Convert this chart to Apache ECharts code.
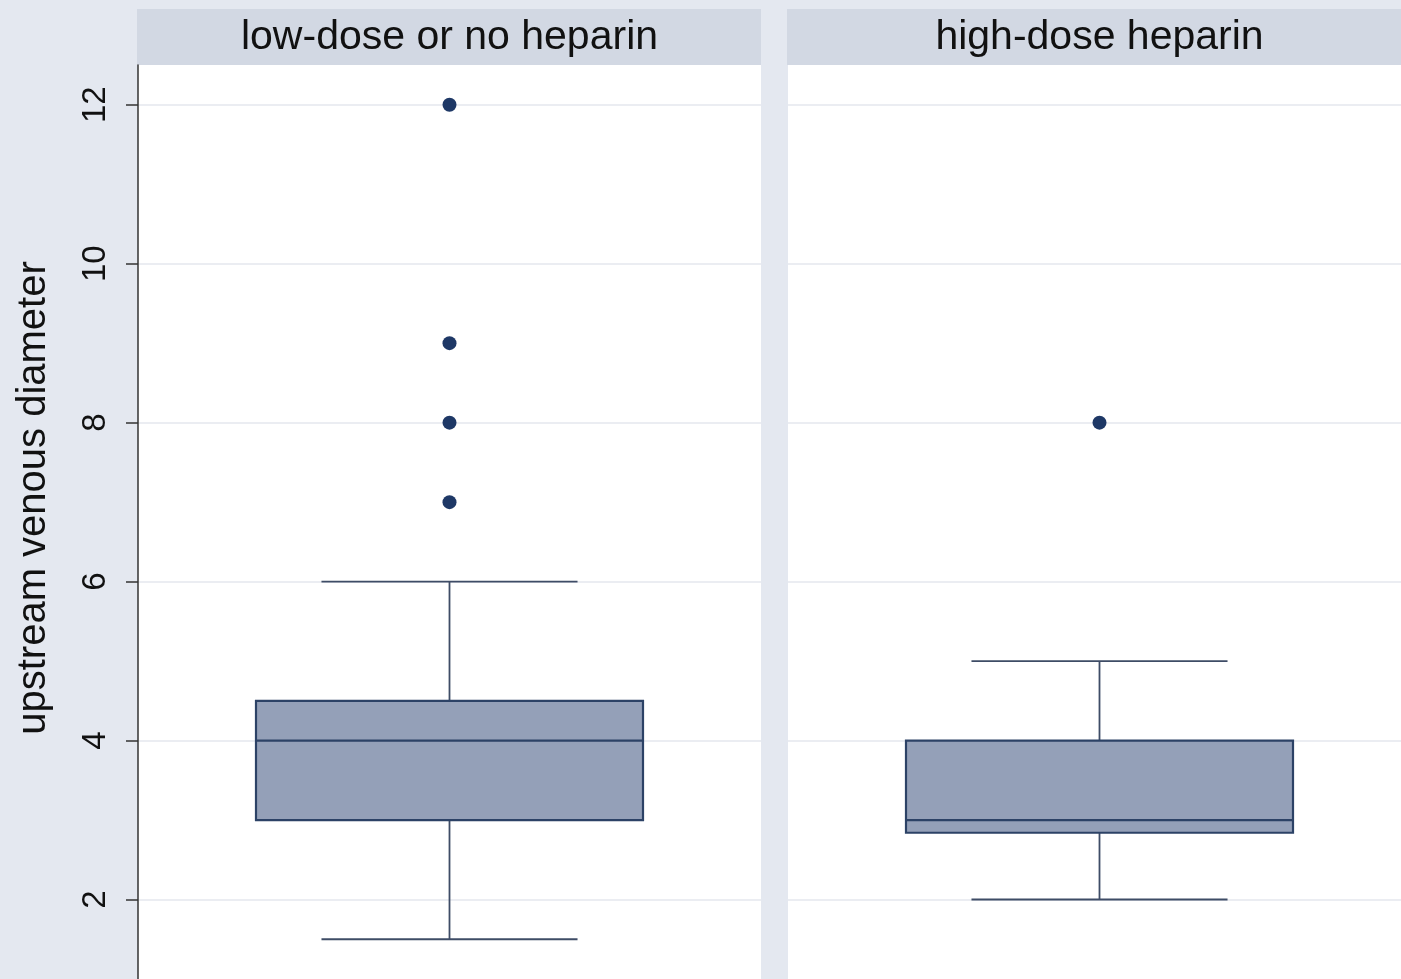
<!DOCTYPE html>
<html>
<head>
<meta charset="utf-8">
<script src="https://cdn.jsdelivr.net/npm/echarts@6/dist/echarts.min.js"></script>
<style>
html,body{margin:0;padding:0;background:#e4e8f0;overflow:hidden;width:1401px;height:979px;}
#chart{width:1411px;height:979px;}
</style>
</head>
<body>
<div id="chart"></div>
<script>
// ---- data ----
const categories = ['low-dose or no heparin', 'high-dose heparin'];
// [lower whisker, Q1, median, Q3, upper whisker]
const boxLow  = [1.5, 3.0, 4.0, 4.5, 6.0];
const boxHigh = [2.0, 2.84, 3.0, 4.0, 5.0];
const outliersLow  = [7, 8, 9, 12];
const outliersHigh = [8];
const yTicks = [2, 4, 6, 8, 10, 12];
const yTitle = 'upstream venous diameter';

// ---- styling ----
const BG = '#e4e8f0';
const STRIP = '#d2d8e3';
const BOX_FILL = '#94a0b8';
const BOX_LINE = '#2c4266';
const WHISKER = '#3e4c66';
const DOT = '#1e3866';
const GRIDLINE = '#e4e7ee';
const FONT = '"Liberation Sans", Arial, sans-serif';

const panelLeft = [138, 788];
const panelWidth = 623;
const gridTop = 65;
const gridHeight = 914;

function renderBox(params, api) {
  const xi = api.value(0);
  const band = api.size([1, 0])[0];
  const cx = api.coord([xi, api.value(3)])[0];
  const yLo = api.coord([xi, api.value(1)])[1];
  const yQ1 = api.coord([xi, api.value(2)])[1];
  const yMed = api.coord([xi, api.value(3)])[1];
  const yQ3 = api.coord([xi, api.value(4)])[1];
  const yHi = api.coord([xi, api.value(5)])[1];
  const hb = band * 0.3106;
  const hc = band * 0.2055;
  const wStyle = { stroke: WHISKER, lineWidth: 1.8 };
  return {
    type: 'group',
    children: [
      { type: 'line', shape: { x1: cx, y1: yQ1, x2: cx, y2: yLo }, style: wStyle },
      { type: 'line', shape: { x1: cx, y1: yQ3, x2: cx, y2: yHi }, style: wStyle },
      { type: 'line', shape: { x1: cx - hc, y1: yLo, x2: cx + hc, y2: yLo }, style: wStyle },
      { type: 'line', shape: { x1: cx - hc, y1: yHi, x2: cx + hc, y2: yHi }, style: wStyle },
      { type: 'rect', shape: { x: cx - hb, y: yQ3, width: 2 * hb, height: yQ1 - yQ3 },
        style: { fill: BOX_FILL, stroke: BOX_LINE, lineWidth: 2.2 } },
      { type: 'line', shape: { x1: cx - hb, y1: yMed, x2: cx + hb, y2: yMed },
        style: { stroke: BOX_LINE, lineWidth: 2.2 } }
    ]
  };
}

const grids = panelLeft.map(l => ({
  left: l, top: gridTop, width: panelWidth, height: gridHeight,
  show: true, backgroundColor: '#ffffff', borderWidth: 0
}));

const xAxes = categories.map((c, i) => ({
  type: 'category', gridIndex: i, data: [c], show: false
}));

const yAxes = [0, 1].map(i => ({
  type: 'value', gridIndex: i, min: 1, max: 12.5,
  axisLine: { show: i === 0, lineStyle: { color: '#333', width: 1.5 } },
  axisTick: { show: i === 0, length: 12, customValues: yTicks, lineStyle: { color: '#333', width: 1.5 } },
  axisLabel: {
    show: i === 0, customValues: yTicks, rotate: 90, margin: 26,
    fontSize: 33, color: '#111', fontFamily: FONT
  },
  splitLine: { show: true, lineStyle: { color: GRIDLINE, width: 1.5 } }
}));

const boxes = [boxLow, boxHigh];
const outs = [outliersLow, outliersHigh];

const series = [];
[0, 1].forEach(i => {
  series.push({
    type: 'custom', xAxisIndex: i, yAxisIndex: i,
    renderItem: renderBox,
    data: [[0].concat(boxes[i])],
    encode: { x: 0, y: [1, 2, 3, 4, 5] },
    silent: true
  });
  series.push({
    type: 'scatter', xAxisIndex: i, yAxisIndex: i,
    data: outs[i].map(v => [0, v]),
    symbol: 'circle', symbolSize: 14,
    itemStyle: { color: DOT, opacity: 1 },
    silent: true, z: 5
  });
});

const graphics = [];
[0, 1].forEach(i => {
  graphics.push({
    type: 'rect', left: panelLeft[i] - 1, top: 9,
    shape: { width: panelWidth + 1, height: 56 },
    style: { fill: STRIP }
  });
  graphics.push({
    type: 'text', x: panelLeft[i] + panelWidth / 2, y: 38,
    style: {
      text: categories[i], fill: '#111', font: '41px ' + FONT,
      textAlign: 'center', textVerticalAlign: 'middle'
    }
  });
});
graphics.push({
  type: 'text', x: 34, y: 498, rotation: Math.PI / 2,
  style: {
    text: yTitle, fill: '#111', font: '40px ' + FONT,
    textAlign: 'center', textVerticalAlign: 'middle'
  }
});

const chart = echarts.init(document.getElementById('chart'), null, { renderer: 'canvas' });
chart.setOption({
  backgroundColor: BG,
  animation: false,
  grid: grids,
  xAxis: xAxes,
  yAxis: yAxes,
  series: series,
  graphic: graphics
});
</script>
</body>
</html>
